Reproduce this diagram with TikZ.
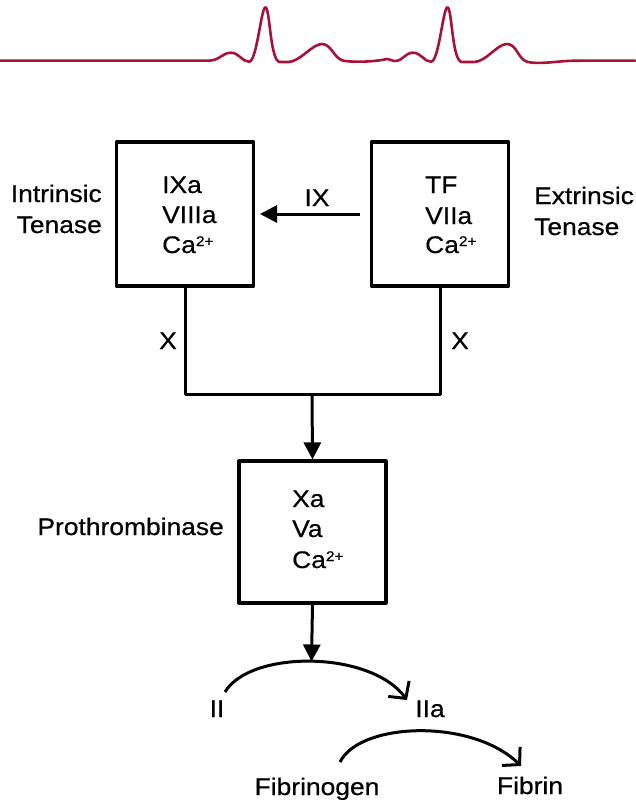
\documentclass[tikz,border=0pt]{standalone}
\usepackage{fontspec}
\setmainfont{Liberation Sans}[FakeStretch=1.1, FakeBold=0.6]
\usetikzlibrary{arrows.meta}
\definecolor{ecgred}{RGB}{168,18,58}
\newcommand{\catwo}{Ca\raisebox{7pt}{\fontsize{14}{14}\selectfont 2+}}
\tikzset{
  enzbox/.style={draw, line width=3.2pt, minimum width=137pt, inner sep=0pt},
  flow/.style={line width=3pt},
  fwd/.style={flow, -{Triangle[length=17pt,width=17pt]}},
  conv/.style={line width=3pt, -{Straight Barb[length=12pt,width=26pt,line width=3pt]}},
  lbl/.style={inner sep=0pt, anchor=base},
  lblw/.style={inner sep=0pt, anchor=base west},
  lble/.style={inner sep=0pt, anchor=base east},
}
\begin{document}
\begin{tikzpicture}[x=1pt, y=-1pt, font=\fontsize{24}{28}\selectfont, line join=round]
\useasboundingbox (0,0) rectangle (635,800);

% heartbeat trace along the top
\draw[ecgred, line width=2.6pt, line cap=round]
  (0,60.7) -- (208,60.7)
  .. controls (220,60.7) and (222,52.7) .. (231,52.7)
  .. controls (239,52.7) and (242,61.7) .. (249,61.7)
  .. controls (257,61.7) and (261,7.3) .. (265.5,7.3)
  .. controls (270,7.3) and (270,62) .. (280,62)
  -- (288,62)
  .. controls (300,62) and (312,44) .. (322,44)
  .. controls (332,44) and (334,60) .. (345,61)
  .. controls (358,62.5) and (376,61.5) .. (387,59)
  .. controls (390,58.5) and (391,61) .. (395,61)
  .. controls (403,61) and (405,52.7) .. (413,52.7)
  .. controls (421,52.7) and (424,61.7) .. (431,61.7)
  .. controls (439,61.7) and (443,7.3) .. (447.5,7.3)
  .. controls (452,7.3) and (452,62) .. (462,62)
  -- (474,62)
  .. controls (486,62) and (497,44) .. (507,44)
  .. controls (517,44) and (518,60) .. (528,62)
  .. controls (535,63.5) and (545,63) .. (560,61.5)
  .. controls (566,61) and (570,60.7) .. (580,60.7)
  -- (635,60.7);

% enzyme complexes
\node[enzbox, minimum height=144pt] (itn) at (185,214) {};
\node[enzbox, minimum height=144pt] (etn) at (440,214) {};
\node[enzbox, minimum width=147pt, minimum height=142pt] (ptb) at (312.5,532) {};

% complex contents
\node[lblw] (itn1) at (162,193) {IXa};
\node[lblw] (itn2) at (162,223) {VIIIa};
\node[lblw] (itn3) at (162,253) {\catwo};
\node[lblw] (etn1) at (425,193) {TF};
\node[lblw] (etn2) at (425,224) {VIIa};
\node[lblw] (etn3) at (425,253) {\catwo};
\node[lblw] (ptb1) at (292,507) {Xa};
\node[lblw] (ptb2) at (292,537) {Va};
\node[lblw] (ptb3) at (292,568) {\catwo};

% complex names
\node[lble] (itnA) at (102,202) {Intrinsic};
\node[lble] (itnB) at (102,233) {Tenase};
\node[lblw] (etnA) at (534,204) {Extrinsic};
\node[lblw] (etnB) at (534,235) {Tenase};
\node[lble] (ptbA) at (224,535) {Prothrombinase};

% factor IX activated by the extrinsic complex
\coordinate (ixs) at (360,214);
\coordinate (ixe) at (260,214);
\draw[fwd] (ixs) -- (ixe);
\node[lbl] (ixl) at (317,206) {IX};

% factor X activation by both tenase complexes
\coordinate (jl) at (185,394);
\coordinate (jr) at (440,394);
\coordinate (jm) at (312,394);
\draw[flow] (itn.south) -- (jl) -- (jr) -- (etn.south);
\node[lbl] (xl) at (168,349) {X};
\node[lbl] (xr) at (460,349) {X};
\draw[fwd] (jm) -- (ptb.north);

% prothrombin to thrombin, fibrinogen to fibrin
\node[lbl] (fii) at (217,717) {II};
\node[lbl] (fiia) at (430,717) {IIa};
\node[lbl] (fbg) at (317,795) {Fibrinogen};
\node[lbl] (fbn) at (530,794) {Fibrin};

\coordinate (c1s) at (225,692);
\coordinate (c1e) at (407,700);
\draw[conv] (c1s) .. controls (250,650) and (370,650) .. coordinate[pos=0.5] (c1m) (c1e);
\draw[fwd] (ptb.south) -- (c1m);

\coordinate (c2s) at (340,762);
\coordinate (c2e) at (521,766);
\draw[conv] (c2s) .. controls (360,722) and (472,718) .. (c2e);
\end{tikzpicture}
\end{document}
